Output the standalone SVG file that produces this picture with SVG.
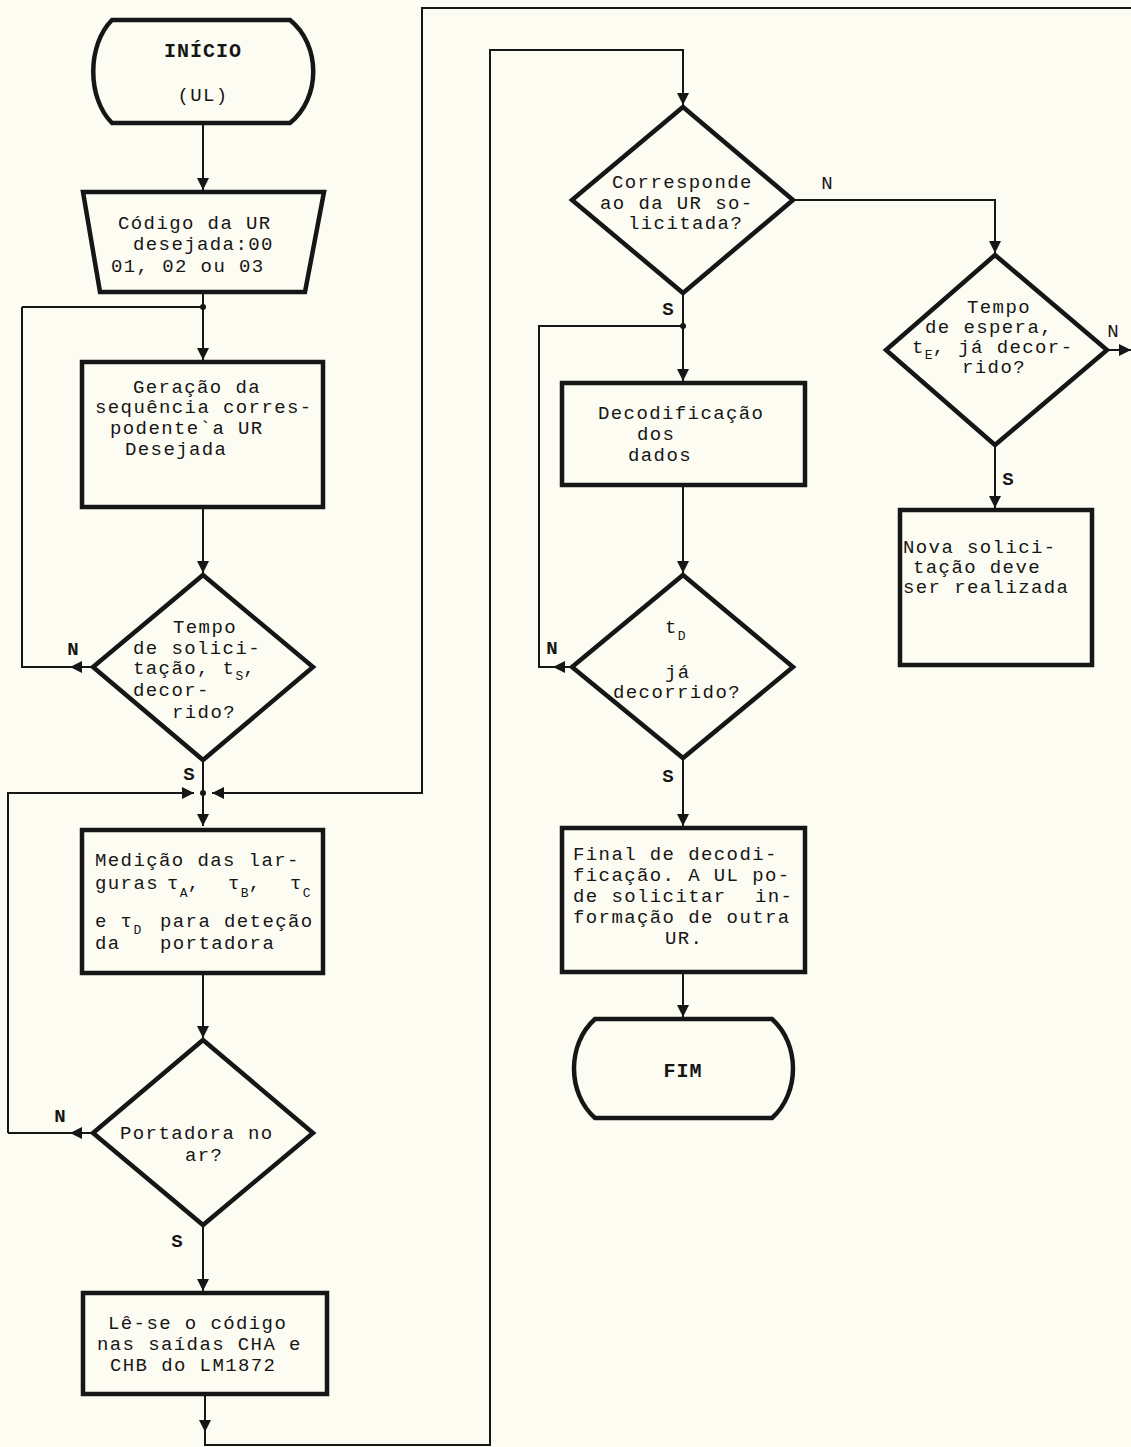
<svg xmlns="http://www.w3.org/2000/svg" width="1131" height="1447" viewBox="0 0 1131 1447">
<defs>
<style>
.sh{fill:none;stroke:#161616;stroke-width:4.5;stroke-linejoin:miter}
.ln{fill:none;stroke:#161616;stroke-width:2}
.t{font-family:"Liberation Mono","DejaVu Sans Mono",monospace;font-size:19px;letter-spacing:1.4px;fill:#161616}
.tb{font-family:"Liberation Mono","DejaVu Sans Mono",monospace;font-size:20px;font-weight:bold;letter-spacing:1px;fill:#161616}
.lb{font-family:"Liberation Mono","DejaVu Sans Mono",monospace;font-size:19px;font-weight:bold;fill:#161616;text-anchor:middle}
.ln2{font-family:"Liberation Mono","DejaVu Sans Mono",monospace;font-size:19px;fill:#161616;text-anchor:middle}
.sub{font-size:13px;letter-spacing:0}
</style>
<marker id="ah" markerUnits="userSpaceOnUse" markerWidth="12" markerHeight="14" viewBox="0 0 12 14" refX="12" refY="7" orient="auto">
<path d="M0,1 L12,7 L0,13 Z" fill="#161616"/>
</marker>
</defs>
<rect x="0" y="0" width="1131" height="1447" fill="#fdfcf3"/>

<g id="connectors">
<path class="ln" d="M203,123 V190" marker-end="url(#ah)"/>
<path class="ln" d="M203,292 V360" marker-end="url(#ah)"/>
<path class="ln" d="M22,307 H203"/>
<circle cx="203" cy="307" r="3" fill="#161616"/>
<path class="ln" d="M203,507 V573" marker-end="url(#ah)"/>
<path class="ln" d="M93,667 H70" marker-end="url(#ah)"/>
<path class="ln" d="M80,667 H22 V307"/>
<path class="ln" d="M203,760 V826" marker-end="url(#ah)"/>
<circle cx="203" cy="793" r="3" fill="#161616"/>
<path class="ln" d="M8,1133 V793 H194" marker-end="url(#ah)"/>
<path class="ln" d="M1131,8 H422 V793 H212" marker-end="url(#ah)"/>
<path class="ln" d="M203,973 V1038" marker-end="url(#ah)"/>
<path class="ln" d="M93,1133 H70" marker-end="url(#ah)"/>
<path class="ln" d="M80,1133 H8"/>
<path class="ln" d="M203,1225 V1291" marker-end="url(#ah)"/>
<path class="ln" d="M205,1394 V1432" marker-end="url(#ah)"/>
<path class="ln" d="M205,1425 V1445 H490 V50 H683 V105" marker-end="url(#ah)"/>
<path class="ln" d="M683,293 V381" marker-end="url(#ah)"/>
<circle cx="683" cy="326" r="3" fill="#161616"/>
<path class="ln" d="M683,326 H539 V667 H562"/>
<path class="ln" d="M572,667 H553" marker-end="url(#ah)"/>
<path class="ln" d="M793,200 H995 V253" marker-end="url(#ah)"/>
<path class="ln" d="M683,485 V573" marker-end="url(#ah)"/>
<path class="ln" d="M683,758 V826" marker-end="url(#ah)"/>
<path class="ln" d="M683,972 V1017" marker-end="url(#ah)"/>
<path class="ln" d="M995,445 V508" marker-end="url(#ah)"/>
<path class="ln" d="M1107,350 H1131" marker-end="url(#ah)"/>
</g>

<g id="labels">
<text class="lb" x="73" y="655">N</text>
<text class="lb" x="189" y="780">S</text>
<text class="lb" x="60" y="1122">N</text>
<text class="lb" x="177" y="1247">S</text>
<text class="lb" x="668" y="315">S</text>
<text class="ln2" x="827" y="189">N</text>
<text class="lb" x="552" y="654">N</text>
<text class="lb" x="668" y="782">S</text>
<text class="ln2" x="1113" y="337">N</text>
<text class="lb" x="1008" y="485">S</text>
</g>

<g id="inicio">
<path class="sh" d="M112,20 H290 C321,45 321,98 290,123 H112 C87,98 87,45 112,20 Z"/>
<text class="tb" x="203" y="57" text-anchor="middle">INÍCIO</text>
<text class="t" x="203" y="101" text-anchor="middle">(UL)</text>
</g>

<g id="codigo">
<path class="sh" d="M83,192 H324 L305,292 H100 Z"/>
<text class="t" x="118" y="229">Código da UR</text>
<text class="t" x="133" y="250">desejada:00</text>
<text class="t" x="111" y="272">01, 02 ou 03</text>
</g>

<g id="geracao">
<rect class="sh" x="82" y="362" width="241" height="145"/>
<text class="t" x="133" y="393">Geração da</text>
<text class="t" x="95" y="413">sequência corres-</text>
<text class="t" x="110" y="434">podente`a UR</text>
<text class="t" x="125" y="455">Desejada</text>
</g>

<g id="tempo-solicitacao">
<path class="sh" d="M203,575 L313,667 L203,760 L93,667 Z"/>
<text class="t" x="173" y="633">Tempo</text>
<text class="t" x="133" y="654">de solici-</text>
<text class="t" x="133" y="674">tação, t<tspan class="sub" dy="6">S</tspan><tspan dy="-6">,</tspan></text>
<text class="t" x="133" y="696">decor-</text>
<text class="t" x="172" y="718">rido?</text>
</g>

<g id="medicao">
<rect class="sh" x="82" y="830" width="241" height="143"/>
<text class="t" x="95" y="866">Medição das lar-</text>
<text class="t" x="95" y="889">guras<tspan x="167">τ</tspan><tspan class="sub" dy="8">A</tspan><tspan dy="-8">,</tspan><tspan x="228">τ</tspan><tspan class="sub" dy="8">B</tspan><tspan dy="-8">,</tspan><tspan x="290">τ</tspan><tspan class="sub" dy="8">C</tspan></text>
<text class="t" x="95" y="927">e τ<tspan class="sub" dy="7">D</tspan><tspan x="160" dy="-7">para deteção</tspan></text>
<text class="t" x="95" y="949">da<tspan x="160">portadora</tspan></text>
</g>

<g id="portadora">
<path class="sh" d="M203,1040 L313,1133 L203,1225 L93,1133 Z"/>
<text class="t" x="120" y="1139">Portadora no</text>
<text class="t" x="185" y="1161">ar?</text>
</g>

<g id="le-codigo">
<rect class="sh" x="83" y="1293" width="244" height="101"/>
<text class="t" x="108" y="1329">Lê-se o código</text>
<text class="t" x="97" y="1350">nas saídas CHA e</text>
<text class="t" x="110" y="1371">CHB do LM1872</text>
</g>

<g id="corresponde">
<path class="sh" d="M683,107 L793,200 L683,293 L572,200 Z"/>
<text class="t" x="612" y="188">Corresponde</text>
<text class="t" x="600" y="209">ao da UR so-</text>
<text class="t" x="628" y="229">licitada?</text>
</g>

<g id="decodificacao">
<rect class="sh" x="562" y="383" width="243" height="102"/>
<text class="t" x="598" y="419">Decodificação</text>
<text class="t" x="637" y="440">dos</text>
<text class="t" x="628" y="461">dados</text>
</g>

<g id="td-decorrido">
<path class="sh" d="M683,575 L793,667 L683,758 L572,667 Z"/>
<text class="t" x="665" y="633">t<tspan class="sub" dy="7">D</tspan></text>
<text class="t" x="665" y="678">já</text>
<text class="t" x="613" y="698">decorrido?</text>
</g>

<g id="final">
<rect class="sh" x="562" y="828" width="243" height="144"/>
<text class="t" x="573" y="860">Final de decodi-</text>
<text class="t" x="573" y="881">ficação. A UL po-</text>
<text class="t" x="573" y="902">de solicitar<tspan x="755">in-</tspan></text>
<text class="t" x="573" y="923">formação de outra</text>
<text class="t" x="665" y="944">UR.</text>
</g>

<g id="fim">
<path class="sh" d="M595,1019 H772 C800,1044 800,1093 772,1118 H595 C567,1093 567,1044 595,1019 Z"/>
<text class="tb" x="683" y="1077" text-anchor="middle">FIM</text>
</g>

<g id="tempo-espera">
<path class="sh" d="M995,255 L1107,350 L995,445 L886,350 Z"/>
<text class="t" x="967" y="313">Tempo</text>
<text class="t" x="925" y="333">de espera,</text>
<text class="t" x="912" y="353">t<tspan class="sub" dy="6">E</tspan><tspan dy="-6">, já decor-</tspan></text>
<text class="t" x="962" y="373">rido?</text>
</g>

<g id="nova-solicitacao">
<rect class="sh" x="900" y="510" width="192" height="155"/>
<text class="t" x="903" y="553">Nova solici-</text>
<text class="t" x="913" y="573">tação deve</text>
<text class="t" x="903" y="593">ser realizada</text>
</g>
</svg>
